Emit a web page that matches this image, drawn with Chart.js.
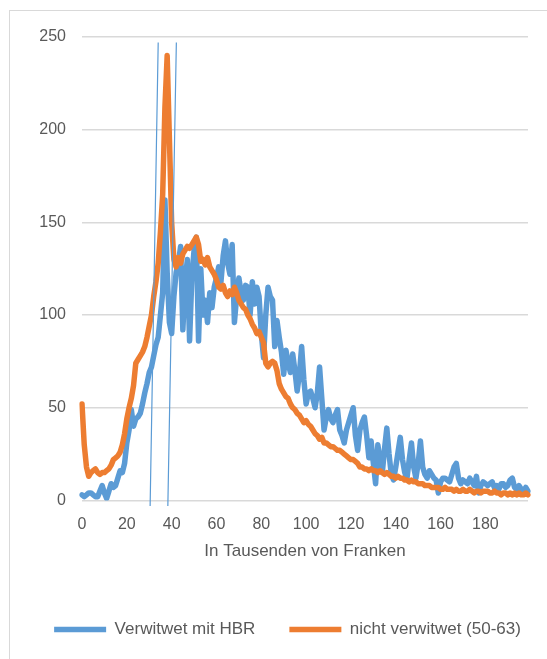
<!DOCTYPE html>
<html>
<head>
<meta charset="utf-8">
<script src="https://cdn.jsdelivr.net/npm/chart.js@4/dist/chart.umd.min.js"></script>
<style>
  html, body { margin: 0; padding: 0; background: #fff; overflow: hidden; width: 547px; height: 659px; }
  #frame { position: absolute; left: 9px; top: 10px; width: 600px; height: 700px; border: 1px solid #d9d9d9; }
  #wrap { position: absolute; left: 0; top: 0; }
</style>
</head>
<body>
<div id="frame"></div>
<div id="wrap"><canvas id="chart" width="566" height="659"></canvas></div>
<script>
// x categories: income in thousand francs, one per step
const incomes = Array.from({ length: 200 }, (_, i) => i);
const xTickLabels = [0, 20, 40, 60, 80, 100, 120, 140, 160, 180];
const yTickLabels = [0, 50, 100, 150, 200, 250];

const seriesNames = ['Verwitwet mit HBR', 'nicht verwitwet (50-63)'];

const widowed = [
  3, 2, 3, 4, 4, 3, 2, 2, 5, 8,
  4, 1, 5, 9, 7, 8, 12, 16, 15, 20,
  31, 38, 49, 40, 44, 45, 47, 52, 58, 63,
  69, 72, 78, 84, 88, 100, 112, 162, 123, 96,
  90, 110, 123, 128, 137, 92, 118, 130, 86, 120,
  135, 142, 86, 125, 100, 108, 96, 112, 104, 115,
  120, 126, 118, 132, 140, 128, 122, 138, 96, 110,
  120, 112, 108, 116, 115, 100, 118, 106, 115, 110,
  90, 77, 100, 115, 110, 108, 83, 97, 88, 80,
  68, 81, 74, 69, 79, 70, 59, 68, 83, 65,
  52, 58, 59, 55, 50, 58, 72, 55, 38, 45,
  49, 44, 42, 46, 49, 38, 35, 31, 38, 42,
  46, 50, 35, 27, 38, 42, 45, 35, 23, 32,
  20, 9, 30, 22, 15, 28, 39, 25, 14, 11,
  18, 26, 34, 22, 15, 12, 22, 31, 18, 12,
  20, 32, 18, 14, 12, 16, 14, 12, 11, 4,
  10, 12, 12, 11, 10, 14, 18, 20, 12, 9,
  11, 10, 9, 12, 10, 8, 13, 4, 8, 10,
  9, 8, 9, 10, 7, 8, 6, 9, 9, 7,
  8, 11, 12, 7, 6, 8, 6, 5, 7, 5
];

const notWidowed = [
  52, 30, 18, 13, 15, 16, 17, 15, 14, 15,
  15, 16, 17, 19, 22, 23, 24, 26, 30, 36,
  44, 50, 55, 62, 74, 76, 78, 80, 83, 88,
  94, 100, 110, 118, 128, 145, 165, 212, 240, 195,
  150, 130, 126, 131, 128, 133, 135, 137, 136, 138,
  140, 142, 138, 129, 130, 127, 131, 126, 124, 122,
  119, 115, 114, 116, 112, 110, 113, 111, 115, 112,
  108, 106, 104, 103, 100, 98, 95, 93, 90, 91,
  88, 85, 74, 72, 74, 75, 74, 70, 63, 60,
  58, 56, 55, 52, 50, 49, 47, 46, 44, 42,
  43, 41, 40, 38, 36, 35, 33, 34, 31, 31,
  30, 29, 29, 28, 27, 27, 26, 25, 24, 23,
  22, 22, 21, 20, 18, 18, 17, 17, 16, 17,
  16, 16, 15, 16, 15, 14, 15, 14, 13, 13,
  12, 13, 12, 12, 11, 11, 10, 11, 10, 10,
  9, 9, 9, 8, 8, 8, 7, 7, 7, 7,
  6, 6, 7, 6, 6, 6, 5, 6, 5, 5,
  6, 5, 5, 6, 5, 4, 5, 5, 4, 5,
  5, 5, 4, 4, 5, 4, 4, 3, 4, 4,
  3, 4, 3, 4, 3, 4, 3, 3, 4, 3
];

// two thin drawn marker lines (x in thousands, bottom and top end)
const markerBottomX = [30.4, 38.3];
const markerTopX = [34.0, 42.1];
const markerBottomY = -3;
const markerTopY = 247;

const blue = '#5b9bd5';
const orange = '#ed7d31';
const textColor = '#595959';
const gridColor = '#d9d9d9';

const markerData = [];
markerBottomX.forEach((bx, i) => {
  if (i > 0) markerData.push({ x: bx, y: null });
  markerData.push({ x: bx, y: markerBottomY });
  markerData.push({ x: markerTopX[i], y: markerTopY });
});

const lineStyle = { pointRadius: 0, borderWidth: 5.5, tension: 0, borderJoinStyle: 'round', borderCapStyle: 'round', fill: false };

new Chart(document.getElementById('chart'), {
  type: 'line',
  data: {
    labels: incomes,
    datasets: [
      { label: seriesNames[0], data: widowed, borderColor: blue, backgroundColor: blue, order: 2, ...lineStyle },
      { label: seriesNames[1], data: notWidowed, borderColor: orange, backgroundColor: orange, order: 1, ...lineStyle },
      { label: 'marker', data: markerData, xAxisID: 'x2', borderColor: blue, borderWidth: 1.2,
        pointRadius: 0, spanGaps: false, clip: false, order: 0, parsing: false }
    ]
  },
  options: {
    responsive: false,
    animation: false,
    layout: { padding: { left: 9, right: 0, top: 37, bottom: 11 } },
    plugins: {
      tooltip: { enabled: false },
      legend: {
        position: 'bottom',
        labels: {
          color: textColor,
          font: { family: 'Liberation Sans, Arial, sans-serif', size: 17 },
          usePointStyle: true,
          pointStyle: 'line',
          pointStyleWidth: 52,
          padding: 34,
          filter: item => item.datasetIndex < 2,
          sort: (a, b) => a.datasetIndex - b.datasetIndex
        }
      }
    },
    scales: {
      x: {
        type: 'category',
        offset: false,
        grid: { display: false },
        border: { display: false },
        ticks: {
          autoSkip: false,
          maxRotation: 0,
          padding: 7,
          color: textColor,
          font: { family: 'Liberation Sans, Arial, sans-serif', size: 16 },
          callback: function (value) {
            const v = incomes[value];
            return xTickLabels.includes(v) ? String(v) : '';
          }
        },
        title: {
          display: true,
          text: 'In Tausenden von Franken',
          color: textColor,
          font: { family: 'Liberation Sans, Arial, sans-serif', size: 17 },
          padding: { top: 10, bottom: 25 }
        },
        afterFit: s => { s.height = s.height - 10; }
      },
      x2: { type: 'linear', display: false, min: incomes[0], max: incomes[incomes.length - 1] },
      y: {
        min: yTickLabels[0],
        max: yTickLabels[yTickLabels.length - 1],
        border: { display: false },
        grid: { color: gridColor, lineWidth: 1.5, drawTicks: false },
        ticks: {
          stepSize: 50,
          padding: 16,
          color: textColor,
          font: { family: 'Liberation Sans, Arial, sans-serif', size: 16 }
        },
        afterFit: s => { s.width = 73; }
      },
      yr: {
        position: 'right',
        display: true,
        grid: { display: false },
        border: { display: false },
        ticks: { display: false },
        afterFit: s => { s.width = 38; }
      }
    }
  }
});
</script>
</body>
</html>
